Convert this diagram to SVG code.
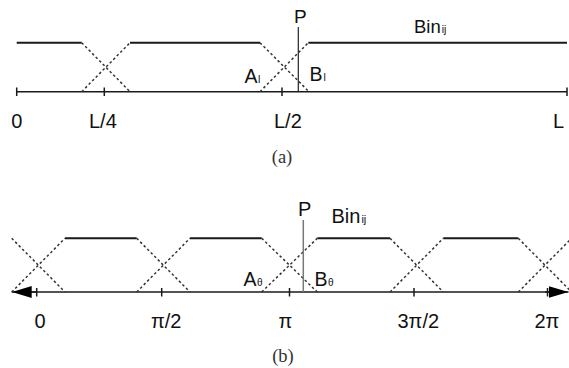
<svg xmlns="http://www.w3.org/2000/svg" width="569" height="368" viewBox="0 0 569 368">
<style>
.flat{stroke:#1a1a1a;stroke-width:2;fill:none}
.ax{stroke:#1a1a1a;stroke-width:1.5;fill:none}
.dash{stroke:#333;stroke-width:1.5;stroke-dasharray:2.5 2.5;fill:none}
.tk{stroke:#1a1a1a;stroke-width:1.5}
.p{stroke:#222;stroke-width:1.2}
.pb{stroke:#777;stroke-width:1.5}
text{font-family:"Liberation Sans",Arial,sans-serif;fill:#111}
.lab{font-size:20px}
.sub{font-size:10.5px}
.cap{font-family:"Liberation Serif","Times New Roman",serif;font-size:18.5px;fill:#333}
</style>
<defs>
<marker id="arr" viewBox="0 0 20 12" refX="20" refY="6" markerWidth="20" markerHeight="12" markerUnits="userSpaceOnUse" orient="auto">
<path d="M0,0 L20,6 L0,12 z" fill="#000"/>
</marker>
</defs>

<g id="panel-a">
  <g id="connectors-a">
    <line class="ax" x1="16.7" y1="91.7" x2="567" y2="91.7"/>
    <line class="tk" x1="16.7" y1="87.5" x2="16.7" y2="96"/>
    <line class="tk" x1="104.3" y1="87.5" x2="104.3" y2="96"/>
    <line class="tk" x1="282" y1="87.5" x2="282" y2="96"/>
    <line class="tk" x1="567" y1="87.5" x2="567" y2="96"/>
    <path class="flat" d="M16.7,42.7 H81.7 M130,42.7 H260 M308.3,42.7 H567"/>
    <path class="dash" d="M81.7,42.7 L130,91.7 M81.7,91.7 L130,42.7 M260,42.7 L309,91.7 M260,91.7 L308.3,42.7"/>
    <line class="p" x1="298.3" y1="27" x2="298.3" y2="91.7"/>
  </g>
  <g id="labels-a">
    <text class="lab" x="16.7" y="127.5" text-anchor="middle">0</text>
    <text class="lab" x="89" y="127.5">L/4</text>
    <text class="lab" x="274" y="127.5">L/2</text>
    <text class="lab" x="553" y="127.5">L</text>
    <text class="lab" x="294" y="23" style="font-size:19px">P</text>
    <text class="lab" x="414" y="33.3" style="font-size:18.5px">Bin<tspan class="sub" dx="1">ij</tspan></text>
    <text class="lab" x="244.5" y="82.5" style="font-size:19.5px">A<tspan class="sub" dx="0.5">l</tspan></text>
    <text class="lab" x="309.5" y="81" style="font-size:19.5px">B<tspan class="sub" dx="1">l</tspan></text>
    <text class="cap" x="282" y="162.5" text-anchor="middle">(a)</text>
  </g>
</g>

<g id="panel-b">
  <g id="connectors-b">
    <line class="ax" x1="30" y1="292" x2="552" y2="292"/>
    <line class="ax" x1="36" y1="292" x2="11.7" y2="292" marker-end="url(#arr)"/>
    <line class="ax" x1="545" y1="292" x2="568.5" y2="292" marker-end="url(#arr)"/>
    <line class="tk" x1="36.7" y1="288" x2="36.7" y2="296.5"/>
    <line class="tk" x1="161.7" y1="288" x2="161.7" y2="296.5"/>
    <line class="tk" x1="289.5" y1="288" x2="289.5" y2="296.5"/>
    <line class="tk" x1="414" y1="288" x2="414" y2="296.5"/>
    <line class="tk" x1="547.5" y1="288" x2="547.5" y2="296.5"/>
    <path class="flat" d="M65,238.3 H136.7 M190,238.3 H261.7 M317.3,238.3 H390 M443.3,238.3 H518.3"/>
    <path class="dash" d="M11.7,238.3 L65,292 M11.7,292 L65,238.3 M136.7,238.3 L190,292 M136.7,292 L190,238.3 M261.7,238.3 L317.3,292 M261.7,292 L317.3,238.3 M390,238.3 L443.3,292 M390,292 L443.3,238.3 M518.3,238.3 L571.6,292 M518.3,292 L571.6,238.3"/>
    <line class="pb" x1="303.3" y1="220" x2="303.3" y2="292"/>
  </g>
  <g id="labels-b">
    <text class="lab" x="34.5" y="328">0</text>
    <text class="lab" x="151" y="328">π/2</text>
    <text class="lab" x="278.5" y="328">π</text>
    <text class="lab" x="397.5" y="328">3π/2</text>
    <text class="lab" x="534.5" y="328">2π</text>
    <text class="lab" x="298" y="216" style="font-size:20px">P</text>
    <text class="lab" x="331.5" y="223.3" style="font-size:20px">Bin<tspan class="sub" dx="1" style="font-size:11px">ij</tspan></text>
    <text class="lab" x="243.5" y="286" style="font-size:19.5px">A<tspan class="sub" dx="0.5" style="font-size:10px">θ</tspan></text>
    <text class="lab" x="314.5" y="286" style="font-size:19.5px">B<tspan class="sub" dx="0.5" style="font-size:10px">θ</tspan></text>
    <text class="cap" x="283" y="362" text-anchor="middle">(b)</text>
  </g>
</g>
</svg>
